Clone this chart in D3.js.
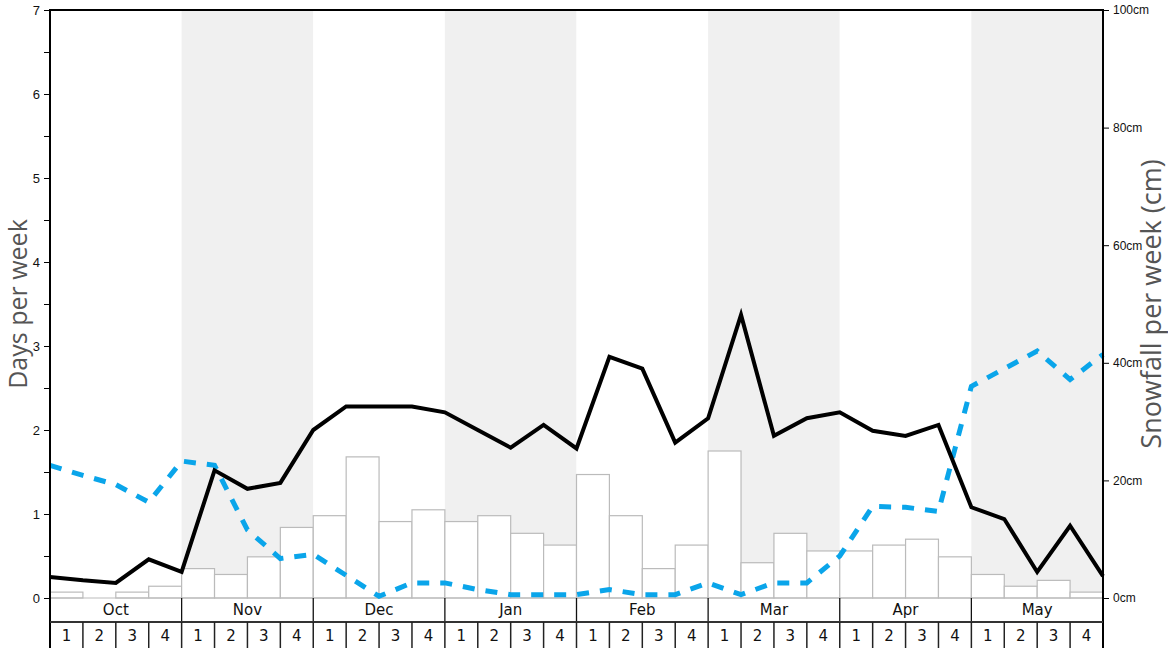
<!DOCTYPE html>
<html>
<head>
<meta charset="utf-8">
<script src="https://cdn.jsdelivr.net/npm/d3@7"></script>
<style>
  body { margin: 0; background: #fff; }
  svg { display: block; font-family: "DejaVu Sans", sans-serif; }
</style>
</head>
<body>
<svg id="chart" width="1168" height="648"></svg>
<script>
const months = ["Oct", "Nov", "Dec", "Jan", "Feb", "Mar", "Apr", "May"];
const weekLabels = ["1", "2", "3", "4"];

// snowfall per week (cm), one per week
const snowfallCm = [1, 0, 1, 2, 5, 4, 7, 12, 14, 24, 13, 15, 13, 14, 11, 9,
    21, 14, 5, 9, 25, 6, 11, 8, 8, 9, 10, 7, 4, 2, 3, 1];

// days per week, sampled at week boundaries (33 points)
const snowDays = [0.25, 0.21, 0.18, 0.46, 0.31, 1.52, 1.30, 1.37, 2.0, 2.28, 2.28,
    2.28, 2.21, 2.0, 1.79, 2.06, 1.78, 2.87, 2.73, 1.85, 2.14, 3.37, 1.93, 2.14,
    2.21, 1.99, 1.93, 2.06, 1.08, 0.94, 0.31, 0.86, 0.26];
const rainDays = [1.58, 1.46, 1.35, 1.14, 1.63, 1.58, 0.81, 0.47, 0.52, 0.27, 0.02,
    0.18, 0.18, 0.10, 0.04, 0.04, 0.04, 0.10, 0.04, 0.04, 0.18, 0.04, 0.18, 0.18,
    0.50, 1.09, 1.08, 1.03, 2.52, 2.73, 2.94, 2.60, 2.90];

const daysTicks = d3.range(0, 7.01, 0.5);
const snowTicks = [0, 20, 40, 60, 80, 100];

const margin = { top: 10, right: 65, bottom: 50, left: 50 },
    width = 1168 - margin.left - margin.right,
    height = 648 - margin.top - margin.bottom;

const svg = d3.select("#chart");
const g = svg.append("g").attr("transform", `translate(${margin.left},${margin.top})`);

const nWeeks = months.length * weekLabels.length;
const x = d3.scaleLinear().domain([0, nWeeks]).range([0, width]);
const yDays = d3.scaleLinear().domain([0, 7]).range([height, 0]);
const ySnow = d3.scaleLinear().domain([0, 100]).range([height, 0]);

// month bands
g.selectAll(".band")
    .data(months)
    .join("rect")
    .attr("class", "band")
    .attr("x", (d, i) => x(i * 4))
    .attr("y", 0)
    .attr("width", x(4) - x(0))
    .attr("height", height)
    .attr("fill", (d, i) => i % 2 ? "#f0f0f0" : "#fff");

// snowfall bars
g.selectAll(".bar")
    .data(snowfallCm)
    .join("rect")
    .attr("class", "bar")
    .attr("x", (d, i) => x(i))
    .attr("y", d => ySnow(d))
    .attr("width", x(1) - x(0))
    .attr("height", d => height - ySnow(d))
    .attr("fill", "#fff")
    .attr("stroke", "#bbb")
    .attr("stroke-width", 1.2);

// baseline
g.append("line")
    .attr("x1", 0).attr("x2", width)
    .attr("y1", height).attr("y2", height)
    .attr("stroke", "#bbb").attr("stroke-width", 1.2);

const line = d3.line()
    .x((d, i) => x(i))
    .y(d => yDays(d));

g.append("path")
    .datum(rainDays)
    .attr("d", line)
    .attr("fill", "none")
    .attr("stroke", "#0aa5ea")
    .attr("stroke-width", 5)
    .attr("stroke-dasharray", "12,11");

g.append("path")
    .datum(snowDays)
    .attr("d", line)
    .attr("fill", "none")
    .attr("stroke", "#000")
    .attr("stroke-width", 4)
    .attr("stroke-linejoin", "miter");

// axes
const leftAxis = g.append("g")
    .call(d3.axisLeft(yDays)
        .tickValues(daysTicks)
        .tickSize(6)
        .tickPadding(4)
        .tickFormat(d => Number.isInteger(d) ? d : ""));
leftAxis.select(".domain").remove();
leftAxis.selectAll("text").attr("font-size", 13).attr("fill", "#111");

const rightAxis = g.append("g")
    .attr("transform", `translate(${width},0)`)
    .call(d3.axisRight(ySnow)
        .tickValues(snowTicks)
        .tickSize(6)
        .tickPadding(4)
        .tickFormat(d => d + "cm"));
rightAxis.select(".domain").remove();
rightAxis.selectAll("text").attr("font-size", 12).attr("fill", "#111");

// frame: top, left, right
g.append("line").attr("x1", 0).attr("x2", width).attr("y1", 0).attr("y2", 0)
    .attr("stroke", "#000").attr("stroke-width", 2);
g.append("line").attr("x1", 0).attr("x2", 0).attr("y1", -1).attr("y2", height + margin.bottom)
    .attr("stroke", "#000").attr("stroke-width", 2);
g.append("line").attr("x1", width).attr("x2", width).attr("y1", -1).attr("y2", height + margin.bottom)
    .attr("stroke", "#000").attr("stroke-width", 2);

// month row
const monthRowH = 24;
const monthRow = g.append("g").attr("transform", `translate(0,${height})`);
monthRow.selectAll(".msep")
    .data(d3.range(1, months.length))
    .join("line")
    .attr("x1", d => x(d * 4)).attr("x2", d => x(d * 4))
    .attr("y1", 0).attr("y2", monthRowH)
    .attr("stroke", "#111").attr("stroke-width", 1.3);
monthRow.selectAll(".mlabel")
    .data(months)
    .join("text")
    .attr("x", (d, i) => x(i * 4 + 2))
    .attr("y", monthRowH / 2)
    .attr("dy", "0.35em")
    .attr("text-anchor", "middle")
    .attr("font-size", 15)
    .attr("fill", "#111")
    .text(d => d);
monthRow.append("line")
    .attr("x1", 0).attr("x2", width)
    .attr("y1", monthRowH).attr("y2", monthRowH)
    .attr("stroke", "#333").attr("stroke-width", 2);

// week row
const weekRow = g.append("g").attr("transform", `translate(0,${height + monthRowH})`);
const weeks = d3.range(nWeeks);
weekRow.selectAll(".wsep")
    .data(weeks.slice(1))
    .join("line")
    .attr("x1", d => x(d)).attr("x2", d => x(d))
    .attr("y1", 0).attr("y2", margin.bottom - monthRowH)
    .attr("stroke", "#222").attr("stroke-width", 1.5);
weekRow.selectAll(".wlabel")
    .data(weeks)
    .join("text")
    .attr("x", d => x(d + 0.5))
    .attr("y", (margin.bottom - monthRowH) / 2 + 1)
    .attr("dy", "0.35em")
    .attr("text-anchor", "middle")
    .attr("font-size", 15)
    .attr("fill", "#111")
    .text(d => weekLabels[d % 4]);

// axis titles
svg.append("text")
    .attr("transform", `translate(27,${margin.top + height / 2}) rotate(-90)`)
    .attr("text-anchor", "middle")
    .attr("font-family", "'Open Sans', sans-serif")
    .attr("font-size", 25)
    .attr("fill", "#555")
    .text("Days per week");

svg.append("text")
    .attr("transform", `translate(1161,${margin.top + height / 2}) rotate(-90)`)
    .attr("text-anchor", "middle")
    .attr("font-family", "'Open Sans', sans-serif")
    .attr("font-size", 27)
    .attr("fill", "#555")
    .text("Snowfall per week (cm)");
</script>
</body>
</html>
